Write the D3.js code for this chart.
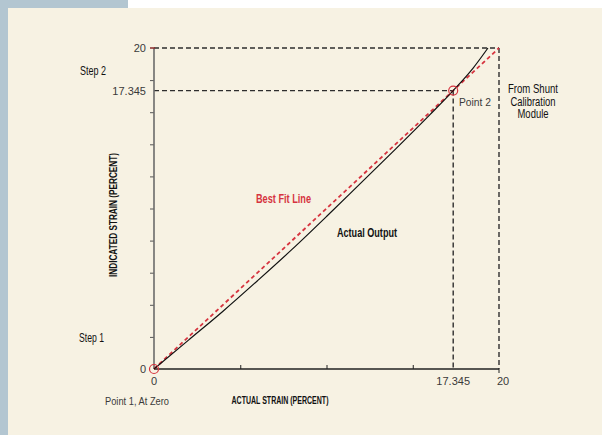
<!DOCTYPE html>
<html>
<head>
<meta charset="utf-8">
<script src="https://cdn.jsdelivr.net/npm/d3@7"></script>
<style>
  body { margin: 0; background: #fff; }
  svg { display: block; }
  .num { font-family: "Liberation Sans", Arial, sans-serif; font-size: 11px; fill: #3a3a3a; }
  .lbl { font-family: "Liberation Sans", Arial, sans-serif; font-size: 13px; fill: #111; }
  .ttl { font-family: "Liberation Sans", Arial, sans-serif; font-size: 11px; font-weight: bold; fill: #111; }
</style>
</head>
<body>
<svg id="chart"></svg>
<script>
var width = 602, height = 435;

// actual strain vs indicated strain
var actualX = [0, 2, 4, 6, 8, 10, 12, 14, 16, 17.345, 18.5, 19.36];
var actualY = [0, 1.8, 3.6, 5.5, 7.45, 9.5, 11.6, 13.7, 15.85, 17.345, 18.75, 20];
var fitX = [0, 20];
var fitY = [0, 20];
var calPoints = [[0, 0], [17.345, 17.345]];
var yMinorTicks = [2, 4, 6, 8, 10, 12, 14, 16, 18];
var xMinorTicks = [5, 10, 15];
var yTickLabels = [0, 17.345, 20];
var xTickLabels = [0, 17.345, 20];

var svg = d3.select('#chart').attr('width', width).attr('height', height);

svg.append('rect').attr('width', width).attr('height', height).attr('fill', '#f7f2e3');
svg.append('rect').attr('x', 0).attr('y', 0).attr('width', 128).attr('height', 8).attr('fill', '#b3c6d1');
svg.append('rect').attr('x', 128).attr('y', 0).attr('width', width - 128).attr('height', 8).attr('fill', '#ffffff');
svg.append('rect').attr('x', 0).attr('y', 0).attr('width', 8).attr('height', height).attr('fill', '#b3c6d1');

var x = d3.scaleLinear().domain([0, 20]).range([154, 499]);
var y = d3.scaleLinear().domain([0, 20]).range([369, 48]);

// dashed guide lines
var guides = [
  [[0, 20], [20, 20]],
  [[20, 20], [20, 0]],
  [[0, 17.345], [17.345, 17.345]],
  [[17.345, 17.345], [17.345, 0]]
];
svg.selectAll('.guide').data(guides).enter().append('line')
  .attr('class', 'guide')
  .attr('x1', function(d) { return x(d[0][0]); })
  .attr('y1', function(d) { return y(d[0][1]); })
  .attr('x2', function(d) { return x(d[1][0]); })
  .attr('y2', function(d) { return y(d[1][1]); })
  .attr('stroke', '#2e2e2e').attr('stroke-width', 1.4).attr('stroke-dasharray', '5,3');

// axes
var yAxis = svg.append('g').attr('transform', 'translate(154,0)')
  .call(d3.axisLeft(y).tickValues(yMinorTicks).tickSize(4).tickFormat(''));
yAxis.select('.domain').remove();
yAxis.selectAll('line').attr('stroke', '#555');
svg.append('line').attr('x1', 154).attr('x2', 154).attr('y1', y(20)).attr('y2', y(0))
  .attr('stroke', '#6b6b6b').attr('stroke-width', 1.6);
svg.append('line').attr('x1', 150).attr('x2', 155).attr('y1', y(20)).attr('y2', y(20))
  .attr('stroke', '#8a2a2a').attr('stroke-width', 1.5);

var xAxis = svg.append('g').attr('transform', 'translate(0,369)')
  .call(d3.axisBottom(x).tickValues(xMinorTicks).tickSize(-4).tickFormat(''));
xAxis.select('.domain').remove();
xAxis.selectAll('line').attr('stroke', '#222');
svg.append('line').attr('x1', x(0)).attr('x2', x(20)).attr('y1', 369).attr('y2', 369)
  .attr('stroke', '#222').attr('stroke-width', 1.4);
svg.append('line').attr('x1', x(20)).attr('x2', x(20)).attr('y1', 369).attr('y2', 373)
  .attr('stroke', '#222').attr('stroke-width', 1);

// tick labels
var fmt = function(d) { return d === 17.345 ? '17.345' : String(d); };
svg.selectAll('.ylab').data(yTickLabels).enter().append('text')
  .attr('class', 'num')
  .attr('x', 146).attr('y', function(d) { return y(d) + 4; })
  .attr('text-anchor', 'end')
  .text(fmt);
svg.selectAll('.xlab').data(xTickLabels).enter().append('text')
  .attr('class', 'num')
  .attr('x', function(d) { return d === 20 ? x(d) + 4 : x(d); })
  .attr('y', 385)
  .attr('text-anchor', 'middle')
  .text(fmt);

// best fit
var line = d3.line().x(function(d) { return x(d[0]); }).y(function(d) { return y(d[1]); });
svg.append('path').datum(d3.zip(fitX, fitY)).attr('d', line)
  .attr('fill', 'none').attr('stroke', '#d6343f').attr('stroke-width', 1.8).attr('stroke-dasharray', '4,3');

// actual output
svg.append('path').datum(d3.zip(actualX, actualY))
  .attr('d', line.curve(d3.curveMonotoneX))
  .attr('fill', 'none').attr('stroke', '#111').attr('stroke-width', 1.2);

svg.selectAll('.cal').data(calPoints).enter().append('circle')
  .attr('cx', function(d) { return x(d[0]); })
  .attr('cy', function(d) { return y(d[1]); })
  .attr('r', 4.5)
  .attr('fill', 'none').attr('stroke', '#d6343f').attr('stroke-width', 1.2);

// annotations (condensed with textLength, the source uses a narrow face)
function label(cls, tx, ty, str, len, anchor) {
  return svg.append('text').attr('class', cls)
    .attr('x', tx).attr('y', ty)
    .attr('text-anchor', anchor || 'start')
    .attr('textLength', len).attr('lengthAdjust', 'spacingAndGlyphs')
    .text(str);
}
label('lbl', 80, 75, 'Step 2', 26);
label('lbl', 79, 342, 'Step 1', 25);
label('num', 105, 405, 'Point 1, At Zero', 64);
label('num', 459, 106, 'Point 2', 32);

var shunt = ['From Shunt', 'Calibration', 'Module'];
var shuntLen = [50, 45, 31];
shunt.forEach(function(s, i) {
  label('lbl', 533, 93 + i * 12.6, s, shuntLen[i], 'middle').style('font-size', '12px');
});

label('ttl', 256, 203, 'Best Fit Line', 55).style('fill', '#d6343f').style('font-size', '12.5px');
label('ttl', 337, 237, 'Actual Output', 60).style('font-size', '12.5px');
label('ttl', 280, 404, 'ACTUAL STRAIN (PERCENT)', 97, 'middle');
label('ttl', 0, 0, 'INDICATED STRAIN (PERCENT)', 124, 'middle')
  .attr('transform', 'translate(117,215) rotate(-90)');
</script>
</body>
</html>
